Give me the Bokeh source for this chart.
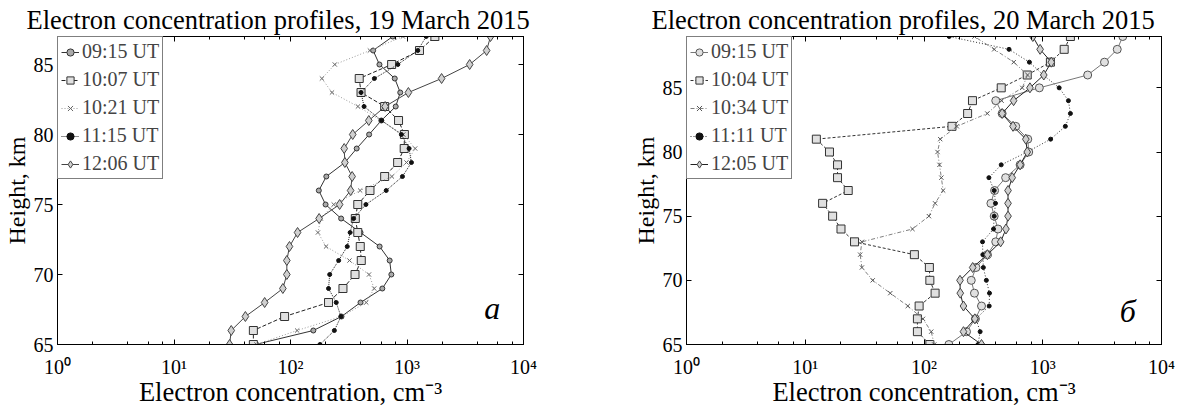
from bokeh.plotting import figure
from bokeh.layouts import row
from bokeh.models import (LogAxis, LinearAxis, FixedTicker, LogTicker, Legend,
                          LegendItem, Label)
from bokeh.embed import file_html
from bokeh.resources import INLINE

# ---------------- data ----------------
heights_a = list(range(65, 88))          # 19 March 2015
a_labels = ["09:15 UT", "10:07 UT", "10:21 UT", "11:15 UT", "12:06 UT"]
a_0915 = [50, 157, 274, 399, 614, 734, 710, 582, 399, 272, 200, 175, 203, 293, 370, 473, 602, 800, 875, 785, 580, 512, 755]
a_1007 = [48, 48, 89, 212, 282, 358, 405, 397, 378, 360, 378, 481, 643, 831, 946, 950, 846, 643, 403, 389, 738, 1280, 1735]
a_1021 = [51, 114, 274, 447, 523, 472, 321, 202, 172, 182, 235, 396, 742, 990, 1175, 930, 600, 379, 227, 186, 240, 480, 922]
a_1115 = [179, 238, 271, 247, 212, 217, 259, 307, 325, 348, 444, 663, 914, 1092, 1042, 895, 605, 428, 403, 525, 834, 1236, 1462]
a_1206 = [30, 31, 41, 60, 86, 93, 93, 98, 115, 176, 264, 328, 338, 293, 289, 342, 470, 649, 1028, 1981, 3450, 4825, 5210]

heights_b = list(range(65, 90))          # 20 March 2015
b_labels = ["09:15 UT", "10:04 UT", "10:34 UT", "11:11 UT", "12:05 UT"]
b_0915 = [162, 228, 271, 305, 266, 250, 274, 342, 402, 420, 390, 366, 393, 487, 645, 762, 748, 592, 455, 402, 936, 2390, 3310, 4240, 4720]
b_1004 = [112, 88, 88, 91, 124, 112, 111, 83, 26, 20, 17, 14, 23, 18.7, 18.7, 16, 12.4, 172, 233, 256, 447, 740, 1160, 1515, 1710]
b_1034 = [122, 115, 98, 73, 52, 37, 30, 29, 30, 80, 110, 124, 145, 140, 135, 130, 137, 189, 341, 450, 672, 745, 570, 390, 266]
b_1111 = [285, 297, 274, 354, 356, 335, 316, 313, 311, 385, 390, 400, 390, 352, 447, 740, 1165, 1550, 1710, 1645, 1375, 1010, 772, 520, 163]
b_1205 = [305, 215, 268, 215, 202, 201, 257, 342, 442, 490, 510, 510, 510, 553, 645, 740, 720, 562, 455, 568, 780, 1020, 1180, 950, 825]

y_ticks = [65, 70, 75, 80, 85]
x_tick_labels = {1: "10\u2070", 10: "10\u00b9", 100: "10\u00b2", 1000: "10\u00b3", 10000: "10\u2074"}

FONT = "Liberation Serif"

# styles: (line_color, line_dash, marker, marker_size, fill_color, marker_line)
styles_a = [
    ("#333333", "solid", "circle", 5, "#aaaaaa", "#333333"),
    ("#222222", "4 2", "square", 8, "#e0e0e0", "#333333"),
    ("#9a9a9a", "1 2", "x", 6, "#ffffff", "#666666"),
    ("#222222", "1 1", "circle", 4, "#111111", "#111111"),
    ("#444444", "solid", "diamond", 10, "#d0d0d0", "#444444"),
]
styles_b = [
    ("#777777", "solid", "circle", 8, "#e0e0e0", "#555555"),
    ("#333333", "3 2", "square", 8, "#e0e0e0", "#333333"),
    ("#808080", "4 2 1 2", "x", 6, "#ffffff", "#555555"),
    ("#333333", "1 2", "circle", 4, "#111111", "#111111"),
    ("#222222", "solid", "diamond", 10, "#d0d0d0", "#444444"),
]


def make_panel(title, heights, series, labels, styles, ymax, frame_w,
               b_left, b_right, title_offset, letter, letter_x, letter_y):
    p = figure(x_axis_type="log", x_range=(1, 1e4), y_range=(65, ymax),
               frame_width=frame_w, frame_height=308,
               min_border_left=b_left, min_border_right=b_right,
               min_border_top=36, min_border_bottom=58,
               output_backend="svg", toolbar_location=None, title=title)
    p.title.align = "left"
    p.title.offset = title_offset
    p.title.text_font = FONT
    p.title.text_font_size = "26.5px"
    p.title.text_font_style = "normal"
    p.title.text_color = "black"
    p.title.standoff = 4
    p.xgrid.visible = False
    p.ygrid.visible = False
    p.outline_line_color = "black"
    p.outline_line_width = 1
    p.background_fill_color = "white"
    p.border_fill_color = "white"

    p.yaxis.ticker = FixedTicker(ticks=y_ticks)
    p.xaxis.ticker = LogTicker(desired_num_ticks=5)
    p.xaxis.major_label_overrides = x_tick_labels
    p.xaxis.axis_label = "Electron concentration, cm\u207b\u00b3"
    p.yaxis.axis_label = "Height, km"

    for ax in [p.xaxis[0], p.yaxis[0]]:
        ax.major_tick_in = 5
        ax.major_tick_out = 0
        ax.minor_tick_in = 3
        ax.minor_tick_out = 0
        ax.axis_line_color = "black"
        ax.major_tick_line_color = "black"
        ax.minor_tick_line_color = "black"
        ax.major_label_text_font = FONT
        ax.major_label_text_font_size = "20px"
        ax.major_label_text_color = "black"
        ax.axis_label_text_font = FONT
        ax.axis_label_text_font_style = "normal"
        ax.axis_label_text_color = "black"
    p.xaxis.axis_label_text_font_size = "26.5px"
    p.yaxis.axis_label_text_font_size = "24px"
    p.xaxis.major_label_standoff = 11
    p.xaxis.axis_label_standoff = -4
    p.yaxis.major_label_standoff = 4
    p.yaxis.axis_label_standoff = 1

    top = LogAxis(ticker=LogTicker(desired_num_ticks=5),
                  major_label_text_font_size="1px", major_label_text_color=None,
                  major_tick_in=5, major_tick_out=0, minor_tick_in=3, minor_tick_out=0,
                  major_label_standoff=0)
    right = LinearAxis(ticker=FixedTicker(ticks=y_ticks),
                       major_label_text_font_size="1px", major_label_text_color=None,
                       major_tick_in=5, major_tick_out=0, minor_tick_in=0, minor_tick_out=0,
                       major_label_standoff=0)
    p.add_layout(top, "above")
    p.add_layout(right, "right")

    items = []
    for vals, lab, st in zip(series, labels, styles):
        lc, dash, marker, msize, fill, mline = st
        r1 = p.line(vals, heights, line_color=lc, line_dash=dash, line_width=1)
        r2 = p.scatter(vals, heights, marker=marker, size=msize,
                       fill_color=fill, line_color=mline, line_width=1)
        items.append(LegendItem(label=lab, renderers=[r1, r2]))
    leg = Legend(items=items, location="top_left", margin=0, padding=3, spacing=5,
                 glyph_width=18, glyph_height=20, label_height=20, label_standoff=3,
                 label_text_font=FONT, label_text_font_size="20px",
                 border_line_color="black", border_line_width=1,
                 background_fill_color="white", background_fill_alpha=1)
    p.add_layout(leg)

    p.add_layout(Label(x=letter_x, y=letter_y, text=letter, text_font=FONT,
                       text_font_style="italic", text_font_size="32px",
                       text_align="center", text_baseline="middle", text_color="black"))
    return p


pa = make_panel("Electron concentration profiles, 19 March 2015", heights_a,
                [a_0915, a_1007, a_1021, a_1115, a_1206], a_labels, styles_a,
                87, 466, 49, 27, -31, "\u0430", 5400, 67.6)
pb = make_panel("Electron concentration profiles, 20 March 2015", heights_b,
                [b_0915, b_1004, b_1034, b_1111, b_1205], b_labels, styles_b,
                89, 475, 136, 14, -35, "\u0431", 5200, 67.6)

layout = row(pa, pb, spacing=0)
open("out.html", "w").write(file_html(layout, INLINE))
